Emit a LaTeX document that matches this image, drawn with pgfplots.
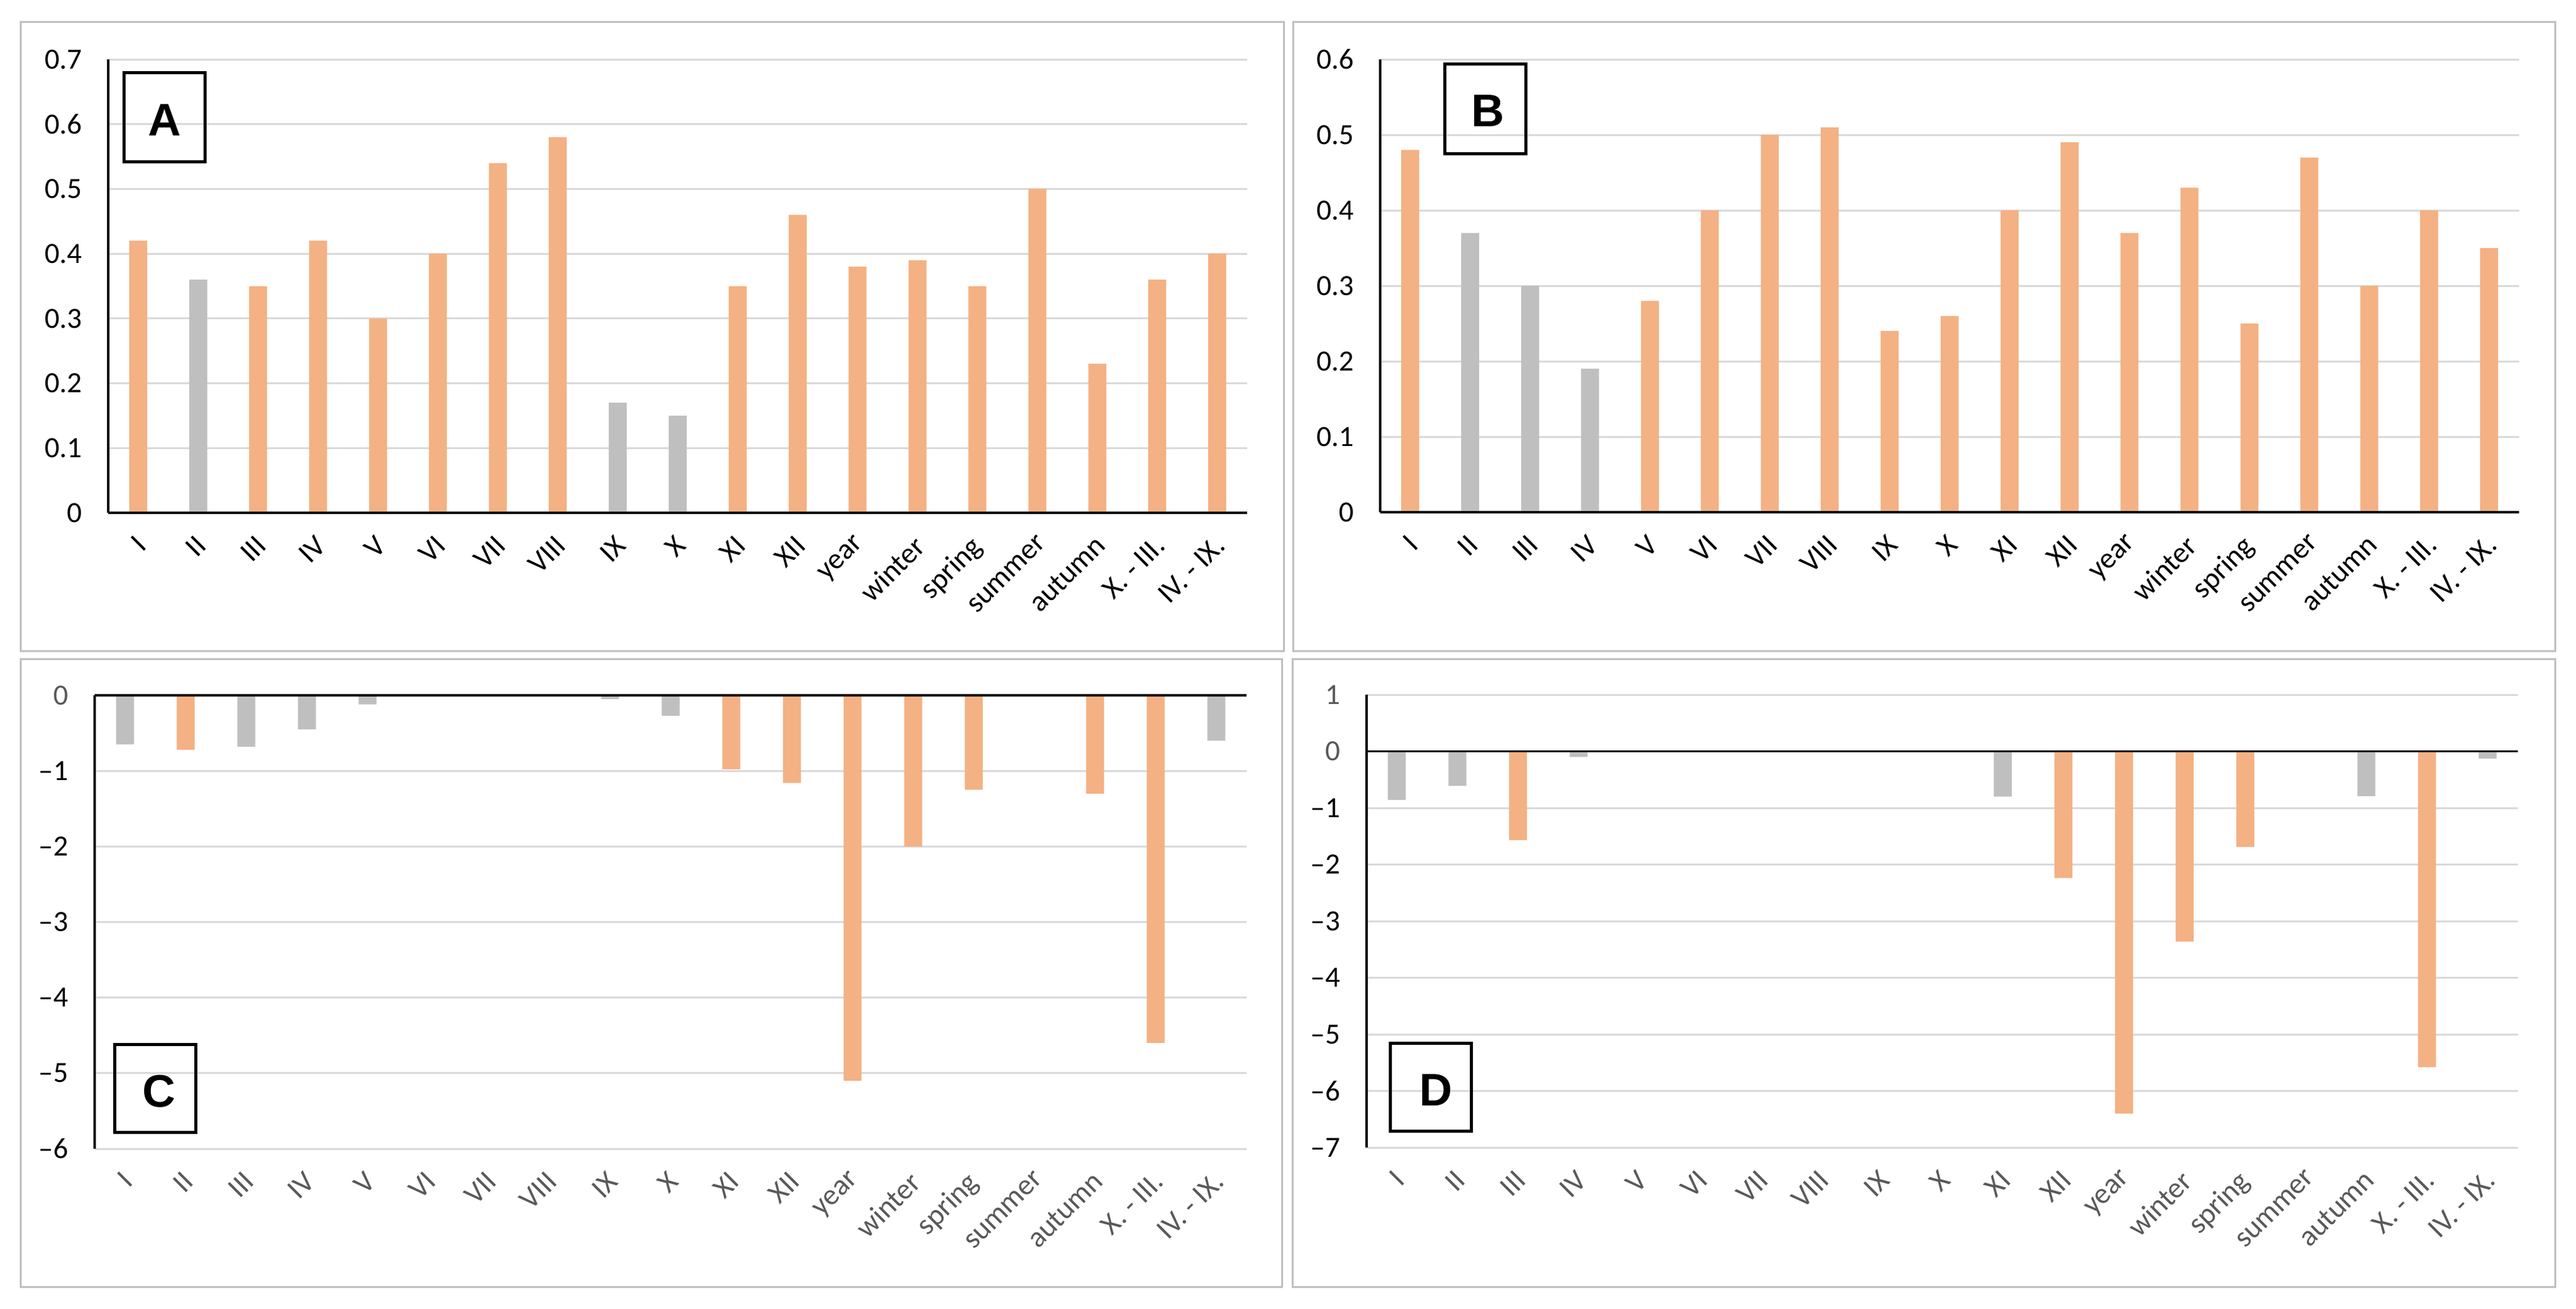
\documentclass[border=0pt]{standalone}
\usepackage{graphicx}
\usepackage{fontspec}
\setmainfont{Carlito}
\newfontfamily\boxfont{Liberation Sans}
\usepackage{pgfplots}
\pgfplotsset{compat=1.18}
\definecolor{barorange}{HTML}{F4B183}
\definecolor{bargrey}{HTML}{BFBFBF}
\definecolor{gridgrey}{HTML}{D9D9D9}
\definecolor{framegrey}{HTML}{BFBFBF}
\definecolor{labgrey}{HTML}{595959}

\newcommand\ticksize{\fontsize{13.5}{16}\selectfont}
\newcommand\rl[1]{\rotatebox{45}{#1}}
\tikzset{axisblack/.style={black, line width=0.035cm}}
\pgfplotsset{
  panel/.style={
    scale only axis,
    xmin=-0.5, xmax=18.5,
    axis line style={draw=none},
    major tick length=0pt,
    ymajorgrids,
    grid style={gridgrey, line width=0.03cm},
    xtick={0,...,18},
    xticklabels={\rl{I},\rl{II},\rl{III},\rl{IV},\rl{V},\rl{VI},\rl{VII},\rl{VIII},\rl{IX},\rl{X},
      \rl{XI},\rl{XII},\rl{year},\rl{winter},\rl{spring},\rl{summer},\rl{autumn},\rl{X. - III.},\rl{IV. - IX.}},
    x tick label style={anchor=north east, inner sep=0pt, xshift=0.16cm, yshift=-0.34cm, font=\ticksize},
    yticklabel style={xshift=-0.3cm, font=\ticksize},
    /pgf/number format/assume math mode=true,
    clip=false,
  },
  orangebar/.style={ybar, bar width=0.29cm, fill=barorange, draw=none},
  greybar/.style={ybar, bar width=0.29cm, fill=bargrey, draw=none},
}

\begin{document}
\begin{tikzpicture}
\fill[white] (0,0) rectangle (41.64,-21.16);
\path[use as bounding box] (0,0) rectangle (41.64,-21.16);

% panel frames
\draw[framegrey, line width=0.03cm] (0.33,-0.36) rectangle (20.75,-10.52);
\draw[framegrey, line width=0.03cm] (20.90,-0.36) rectangle (41.30,-10.52);
\draw[framegrey, line width=0.03cm] (0.33,-10.65) rectangle (20.72,-20.80);
\draw[framegrey, line width=0.03cm] (20.89,-10.65) rectangle (41.30,-20.80);

% A
\begin{axis}[panel, at={(1.75cm,-8.29cm)}, anchor=south west,
  width=18.41cm, height=7.33cm,
  ymin=0, ymax=0.7, ytick={0,0.1,...,0.7},
  yticklabel style={black},
  x tick label style={black}]
\addplot[orangebar] coordinates {(0,0.42) (2,0.35) (3,0.42) (4,0.30) (5,0.40) (6,0.54) (7,0.58)
  (10,0.35) (11,0.46) (12,0.38) (13,0.39) (14,0.35) (15,0.50) (16,0.23) (17,0.36) (18,0.40)};
\addplot[greybar] coordinates {(1,0.36) (8,0.17) (9,0.15)};
\draw[axisblack] (axis cs:-0.5,0) -- (axis cs:18.5,0);
\draw[axisblack] (axis cs:-0.5,0) -- (axis cs:-0.5,0.7);
\end{axis}

% B
\begin{axis}[panel, at={(22.31cm,-8.28cm)}, anchor=south west,
  width=18.41cm, height=7.32cm,
  ymin=0, ymax=0.6, ytick={0,0.1,...,0.6},
  yticklabel style={black},
  x tick label style={black}]
\addplot[orangebar] coordinates {(0,0.48) (4,0.28) (5,0.40) (6,0.50) (7,0.51) (8,0.24) (9,0.26)
  (10,0.40) (11,0.49) (12,0.37) (13,0.43) (14,0.25) (15,0.47) (16,0.30) (17,0.40) (18,0.35)};
\addplot[greybar] coordinates {(1,0.37) (2,0.30) (3,0.19)};
\draw[axisblack] (axis cs:-0.5,0) -- (axis cs:18.5,0);
\draw[axisblack] (axis cs:-0.5,0) -- (axis cs:-0.5,0.6);
\end{axis}

% C
\begin{axis}[panel, at={(1.53cm,-18.57cm)}, anchor=south west,
  width=18.62cm, height=7.33cm,
  ymin=-6, ymax=0, ytick={-6,...,0},
  yticklabels={–6,–5,–4,–3,–2,–1,\textcolor{labgrey}{0}},
  yticklabel style={black},
  x tick label style={labgrey}]
\addplot[orangebar] coordinates {(1,-0.72) (10,-0.98) (11,-1.16) (12,-5.1) (13,-2.0) (14,-1.25)
  (16,-1.3) (17,-4.6)};
\addplot[greybar] coordinates {(0,-0.65) (2,-0.68) (3,-0.45) (4,-0.12) (8,-0.05) (9,-0.27) (18,-0.6)};
\draw[axisblack] (axis cs:-0.5,0) -- (axis cs:18.5,0);
\draw[axisblack] (axis cs:-0.5,-6) -- (axis cs:-0.5,0);
\end{axis}

% D
\begin{axis}[panel, at={(22.09cm,-18.55cm)}, anchor=south west,
  width=18.61cm, height=7.32cm,
  ymin=-7, ymax=1, ytick={-7,...,1},
  yticklabels={–7,–6,–5,–4,–3,–2,–1,\textcolor{labgrey}{0},\textcolor{labgrey}{1}},
  yticklabel style={black},
  x tick label style={labgrey}]
\addplot[orangebar] coordinates {(2,-1.57) (11,-2.24) (12,-6.4) (13,-3.36) (14,-1.69) (17,-5.58)};
\addplot[greybar] coordinates {(0,-0.86) (1,-0.61) (3,-0.10) (10,-0.80) (16,-0.79) (18,-0.13)};
\draw[axisblack] (axis cs:-0.5,0) -- (axis cs:18.5,0);
\draw[axisblack] (axis cs:-0.5,-7) -- (axis cs:-0.5,1);
\end{axis}

% panel letters
\draw[line width=0.05cm] (2.00,-1.18) rectangle (3.31,-2.62);
\node at (2.66,-1.94) {\boxfont\bfseries\fontsize{21}{24}\selectfont A};
\draw[line width=0.05cm] (23.35,-1.04) rectangle (24.66,-2.49);
\node at (24.05,-1.79) {\boxfont\bfseries\fontsize{21}{24}\selectfont B};
\draw[line width=0.05cm] (1.85,-16.88) rectangle (3.16,-18.30);
\node at (2.57,-17.64) {\boxfont\bfseries\fontsize{21}{24}\selectfont C};
\draw[line width=0.05cm] (22.47,-16.86) rectangle (23.78,-18.28);
\node at (23.21,-17.62) {\boxfont\bfseries\fontsize{21}{24}\selectfont D};
\end{tikzpicture}
\end{document}
